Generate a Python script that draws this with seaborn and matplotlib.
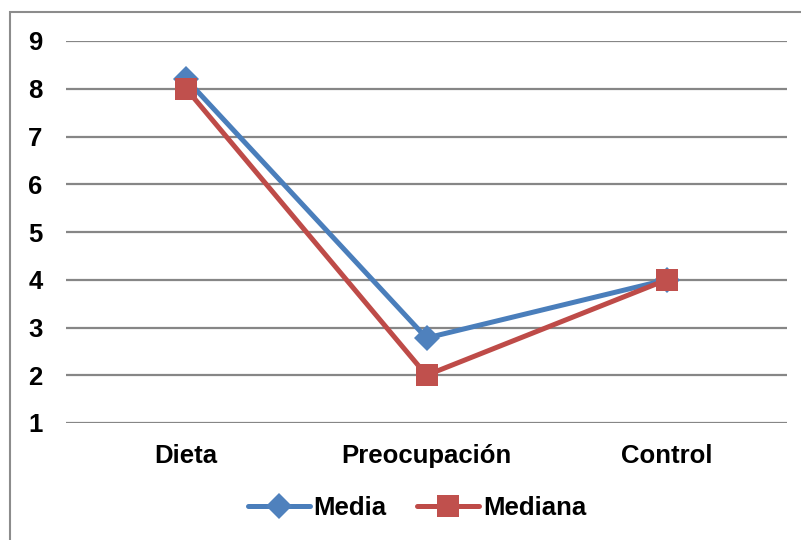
import matplotlib
matplotlib.use("Agg")
import matplotlib.pyplot as plt
import seaborn as sns
import pandas as pd
from matplotlib.patches import Rectangle

categories = ["Dieta", "Preocupación", "Control"]
media = [8.2, 2.78, 4.0]
mediana = [8.0, 2.0, 4.0]
series_names = ["Media", "Mediana"]
yticks = [1, 2, 3, 4, 5, 6, 7, 8, 9]

df = pd.DataFrame({
    "cat": categories * 2,
    "val": media + mediana,
    "serie": [series_names[0]] * 3 + [series_names[1]] * 3,
})

sns.set_style("white")
plt.rcParams["font.family"] = ["Liberation Sans", "DejaVu Sans"]
plt.rcParams["text.color"] = "black"
plt.rcParams["xtick.color"] = "black"
plt.rcParams["ytick.color"] = "black"

fig = plt.figure(figsize=(8.01, 5.40), dpi=100)
ax = fig.add_axes([66 / 801, 1 - 423 / 540, (787 - 66) / 801, (423 - 41) / 540])

line_colors = ["#4A7EBB", "#BE4B48"]
marker_colors = ["#4F81BD", "#C0504D"]
markers = ["D", "s"]
msizes = [13, 16]

for i, name in enumerate(series_names):
    sub = df[df["serie"] == name]
    sns.lineplot(data=sub, x="cat", y="val", ax=ax, color=line_colors[i],
                 linewidth=3.6, marker=markers[i], markersize=msizes[i],
                 markerfacecolor=marker_colors[i], markeredgecolor=marker_colors[i],
                 markeredgewidth=0, label=name, sort=False, zorder=3 + i)

ax.set_xlim(-0.5, 2.5)
ax.set_ylim(1, 9)
ax.set_yticks(yticks)
ax.set_yticklabels([str(t) for t in yticks])
for t in yticks:
    ax.axhline(t, color="#868686", lw=1.6, zorder=1)
for s in ax.spines.values():
    s.set_visible(False)
ax.set_xlabel("")
ax.set_ylabel("")
ax.tick_params(axis="both", length=0, labelsize=18.5, colors="black")
ax.tick_params(axis="y", pad=17)
ax.tick_params(axis="x", pad=15)
for lbl in ax.get_xticklabels() + ax.get_yticklabels():
    lbl.set_fontweight("bold")
    lbl.set_color("black")

handles, labels = ax.get_legend_handles_labels()
leg = fig.legend(handles, labels, loc="center", bbox_to_anchor=(417 / 801, 1 - 508 / 540),
                 ncol=2, frameon=False, prop={"size": 18.5, "weight": "bold"},
                 handlelength=2.4, handletextpad=0.15, columnspacing=1.2)
for txt in leg.get_texts():
    txt.set_color("black")
if ax.get_legend():
    ax.get_legend().remove()

top = 1 - 12 / 540
fig.patches.append(Rectangle((10 / 801, -0.2), 1.2, top + 0.2,
                             transform=fig.transFigure, fill=False,
                             edgecolor="#8c8c8c", lw=1.5))

fig.savefig("out.png", dpi=100)
